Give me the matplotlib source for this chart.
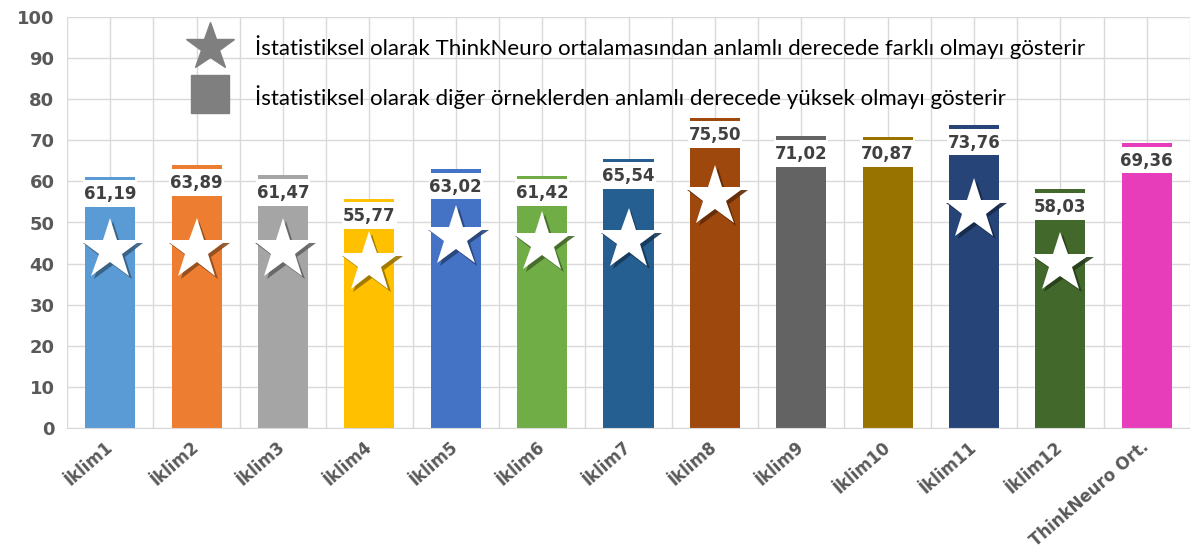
import matplotlib
matplotlib.use("Agg")
import matplotlib.pyplot as plt
import matplotlib.patheffects as pe
import matplotlib.colors as mcolors
import numpy as np

categories = ["İklim1", "İklim2", "İklim3", "İklim4", "İklim5", "İklim6", "İklim7",
              "İklim8", "İklim9", "İklim10", "İklim11", "İklim12", "ThinkNeuro Ort."]
values = [61.19, 63.89, 61.47, 55.77, 63.02, 61.42, 65.54, 75.50, 71.02, 70.87, 73.76, 58.03, 69.36]
colors = ["#5B9BD5", "#ED7D31", "#A5A5A5", "#FFC000", "#4472C4", "#70AD47", "#255E91",
          "#9E480E", "#636363", "#997300", "#264478", "#43682B", "#E83DBA"]
# categories marked with a star and the level of the star inside the bar
star_flags = [1, 1, 1, 1, 1, 1, 1, 1, 0, 0, 1, 1, 0]
star_levels = [43.3, 43.3, 43.3, 40.1, 46.5, 45.0, 45.7, 56.2, 0, 0, 53.0, 40.0, 0]
yticks = [0, 10, 20, 30, 40, 50, 60, 70, 80, 90, 100]
legend_texts = ["İstatistiksel olarak ThinkNeuro ortalamasından anlamlı derecede farklı olmayı gösterir",
                "İstatistiksel olarak diğer örneklerden anlamlı derecede yüksek olmayı gösterir"]

fig = plt.figure(figsize=(11.9, 5.52), dpi=100)
ax = fig.add_axes([67 / 1190, 1 - 428 / 552, 1 - 67 / 1190, (428 - 17) / 552])

x = np.arange(len(categories))
ax.bar(x, values, width=0.58, color=colors, zorder=2)

# white label boxes and value labels
for xi, v in zip(x, values):
    ax.bar(xi, 6.5, bottom=v - 7.4, width=0.63, color="white", zorder=3)
    ax.text(xi, v - 4.3, f"{v:.2f}".replace(".", ","), ha="center", va="center",
            fontsize=12, fontweight="bold", color="#404040", zorder=4)

# stars with shadow
for xi, flag, lvl, c in zip(x, star_flags, star_levels, colors):
    if flag:
        dark = tuple(np.array(mcolors.to_rgb(c)) * 0.6)
        ax.plot(xi, lvl, marker="*", markersize=46, markerfacecolor="white",
                markeredgecolor="none", linestyle="none", zorder=5,
                path_effects=[pe.SimplePatchShadow(offset=(2, -2), shadow_rgbFace=dark, alpha=0.9),
                              pe.Normal()])

ax.set_xlim(-0.5, len(categories) - 0.5)
ax.set_ylim(0, 100)
ax.set_yticks(yticks)
ax.set_xticks(x)
ax.set_xticks(np.arange(-0.5, len(categories), 1.0), minor=True)
ax.set_yticklabels([str(t) for t in yticks], fontsize=13, fontweight="bold", color="#595959")
ax.set_xticklabels(categories, rotation=41, ha="right", va="center", rotation_mode="anchor",
                   fontsize=12, fontweight="bold", color="#595959")
ax.tick_params(axis="both", which="both", length=0)
ax.tick_params(axis="y", pad=9)
ax.tick_params(axis="x", pad=12)
ax.grid(True, which="both", axis="x", color="#D9D9D9", linewidth=1, zorder=0)
ax.grid(True, which="major", axis="y", color="#D9D9D9", linewidth=1, zorder=0)
ax.set_axisbelow(True)
for s in ["top", "right", "left"]:
    ax.spines[s].set_visible(False)
ax.spines["bottom"].set_color("#D9D9D9")

# legend-like annotation
ax.plot(0.127, 0.927, transform=ax.transAxes, marker="*", markersize=36, color="#7F7F7F",
        linestyle="none", zorder=6, clip_on=False)
ax.plot(0.127, 0.813, transform=ax.transAxes, marker="s", markersize=27, color="#7F7F7F",
        linestyle="none", zorder=6, clip_on=False)
ax.text(0.167, 0.927, legend_texts[0], transform=ax.transAxes, ha="left", va="center",
        fontsize=16, family="Lato", color="black", zorder=6)
ax.text(0.167, 0.805, legend_texts[1], transform=ax.transAxes, ha="left", va="center",
        fontsize=16, family="Lato", color="black", zorder=6)

fig.savefig("out.png", dpi=100)
